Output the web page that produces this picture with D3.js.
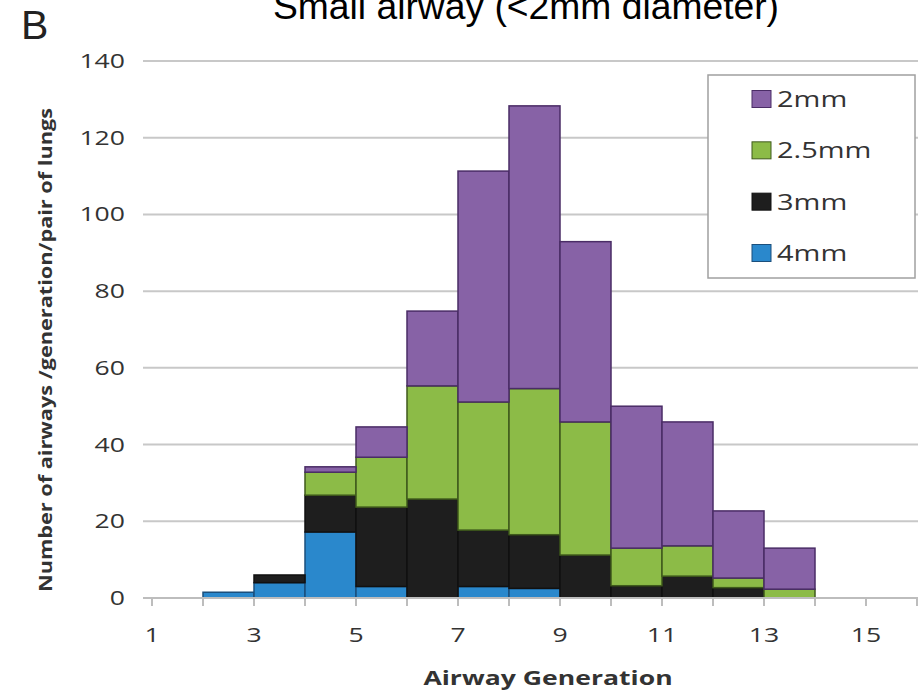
<!DOCTYPE html>
<html>
<head>
<meta charset="utf-8">
<script src="https://cdn.jsdelivr.net/npm/d3@7"></script>
<style>
  html, body { margin: 0; padding: 0; background: #fff; }
  svg { display: block; }
</style>
</head>
<body>
<svg id="chart" width="922" height="692"></svg>
<script>
// ---- data ----
const generations = [2, 3, 4, 5, 6, 7, 8, 9, 10, 11, 12, 13];
const series4mm   = [1.5, 4, 17.2, 3, 0, 3, 2.5, 0, 0, 0, 0, 0];
const series3mm   = [0, 2, 9.6, 20.7, 25.8, 14.7, 14, 11.2, 3.2, 5.7, 2.7, 0];
const series25mm  = [0, 0, 6, 13, 29.5, 33.4, 38.1, 34.7, 9.8, 7.9, 2.5, 2.3];
const series2mm   = [0, 0, 1.4, 7.9, 19.5, 60.2, 73.7, 47, 37, 32.3, 17.5, 10.7];
const seriesNames = ["4mm", "3mm", "2.5mm", "2mm"];
const legendOrder = ["2mm", "2.5mm", "3mm", "4mm"];
const yTicks = [0, 20, 40, 60, 80, 100, 120, 140];
const xTickLabels = [1, 3, 5, 7, 9, 11, 13, 15];
const xTickMarks = [1, 2, 3, 4, 5, 6, 7, 8, 9, 10, 11, 12, 13, 14, 15, 16];

const fills   = { "2mm": "#8762a6", "2.5mm": "#8cbb47", "3mm": "#1e1e1e", "4mm": "#2a88cc" };
const strokes = { "2mm": "#4a2c66", "2.5mm": "#3f5a1c", "3mm": "#111111", "4mm": "#1b4f7c" };

const table = generations.map((g, i) => ({
  gen: g,
  "4mm": series4mm[i], "3mm": series3mm[i], "2.5mm": series25mm[i], "2mm": series2mm[i]
}));

const svg = d3.select("#chart");
const SX = 1.33; // horizontal stretch of the chart text

const x = d3.scaleLinear().domain([1, 16]).range([152, 917]);
const y = d3.scaleLinear().domain([0, 140]).range([598, 61]);

// gridlines
svg.append("g").selectAll("line").data(yTicks.filter(t => t > 0)).join("line")
  .attr("x1", 143).attr("x2", 918)
  .attr("y1", d => y(d)).attr("y2", d => y(d))
  .attr("stroke", "#c8c8c8").attr("stroke-width", 2);

// bars
const stack = d3.stack().keys(seriesNames)(table);
const gBars = svg.append("g");
stack.forEach(layer => {
  const key = layer.key;
  gBars.append("g").selectAll("rect").data(layer.filter(d => d[1] - d[0] > 0)).join("rect")
    .attr("x", d => x(d.data.gen))
    .attr("width", d => x(d.data.gen + 1) - x(d.data.gen))
    .attr("y", d => y(d[1]))
    .attr("height", d => y(d[0]) - y(d[1]))
    .attr("fill", fills[key])
    .attr("stroke", strokes[key])
    .attr("stroke-width", 1.5);
});

// x axis baseline + ticks
svg.append("line").attr("x1", 143).attr("x2", 918)
  .attr("y1", y(0)).attr("y2", y(0))
  .attr("stroke", "#bdbdbd").attr("stroke-width", 2);
svg.append("g").selectAll("line").data(xTickMarks).join("line")
  .attr("x1", d => x(d)).attr("x2", d => x(d))
  .attr("y1", y(0)).attr("y2", y(0) + 8)
  .attr("stroke", "#bdbdbd").attr("stroke-width", 2);

// x tick labels
svg.append("g").selectAll("text").data(xTickLabels).join("text")
  .attr("transform", d => `translate(${x(d)},642) scale(${SX},1)`)
  .attr("text-anchor", "middle")
  .attr("font-family", "Open Sans, sans-serif")
  .attr("font-size", 20)
  .attr("fill", "#333")
  .text(d => d);

// y tick labels
svg.append("g").selectAll("text").data(yTicks).join("text")
  .attr("transform", d => `translate(125,${y(d) + 7}) scale(${SX},1)`)
  .attr("text-anchor", "end")
  .attr("font-family", "Open Sans, sans-serif")
  .attr("font-size", 20)
  .attr("fill", "#333")
  .text(d => d);

// axis titles
svg.append("text")
  .attr("transform", `translate(548,685) scale(${SX},1)`)
  .attr("text-anchor", "middle")
  .attr("font-family", "Open Sans, sans-serif")
  .attr("font-weight", "bold")
  .attr("font-size", 20)
  .attr("fill", "#333")
  .text("Airway Generation");

svg.append("text")
  .attr("transform", "translate(52,350) rotate(-90)")
  .attr("text-anchor", "middle")
  .attr("font-family", "Open Sans, sans-serif")
  .attr("font-weight", "bold")
  .attr("font-size", 18)
  .attr("textLength", 484)
  .attr("lengthAdjust", "spacingAndGlyphs")
  .attr("fill", "#333")
  .text("Number of airways /generation/pair of lungs");

// title and panel letter
svg.append("text")
  .attr("x", 273).attr("y", 19)
  .attr("font-family", "Liberation Sans, Arial, sans-serif")
  .attr("font-size", 37)
  .attr("textLength", 506)
  .attr("lengthAdjust", "spacingAndGlyphs")
  .attr("fill", "#000")
  .text("Small airway (<2mm diameter)");

svg.append("text")
  .attr("x", 21).attr("y", 39)
  .attr("font-family", "Liberation Sans, Arial, sans-serif")
  .attr("font-size", 41)
  .attr("fill", "#222")
  .text("B");

// legend
const lg = svg.append("g");
lg.append("rect").attr("x", 708).attr("y", 75).attr("width", 207).attr("height", 203)
  .attr("fill", "#fff").attr("stroke", "#a0a0a0").attr("stroke-width", 1.5);
const rowY = d3.scalePoint().domain(legendOrder).range([99, 253]);
legendOrder.forEach(k => {
  lg.append("rect").attr("x", 752).attr("y", rowY(k) - 8.5).attr("width", 19).attr("height", 17)
    .attr("fill", fills[k]).attr("stroke", strokes[k]).attr("stroke-width", 1);
  lg.append("text")
    .attr("transform", `translate(777,${rowY(k) + 8}) scale(${SX + 0.05},1)`)
    .attr("font-family", "Open Sans, sans-serif")
    .attr("font-size", 21)
    .attr("fill", "#333")
    .text(k);
});
</script>
</body>
</html>
